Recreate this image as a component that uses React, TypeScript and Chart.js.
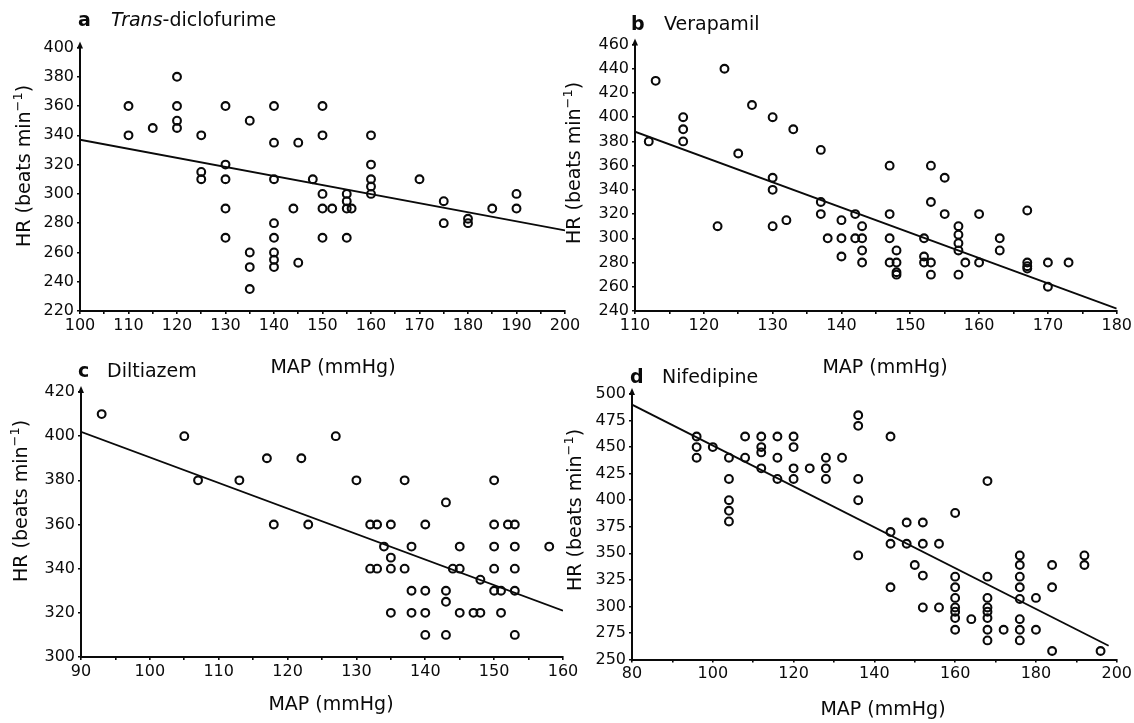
import React, { useEffect, useRef } from 'react';
import { Chart, registerables } from 'chart.js';

Chart.register(...registerables);

// ---------------- DATA ----------------
// Panel a: Trans-diclofurime
const aMAP = [110, 110, 115, 120, 120, 120, 120, 125, 125, 125, 130, 130, 130, 130, 130, 135, 135, 135, 135,
  140, 140, 140, 140, 140, 140, 140, 140, 144, 145, 145, 148, 150, 150, 150, 150, 150, 152, 155, 155, 155, 155,
  156, 160, 160, 160, 160, 160, 170, 175, 175, 180, 180, 185, 190, 190];
const aHR = [360, 340, 345, 380, 360, 350, 345, 340, 315, 310, 360, 320, 310, 290, 270, 350, 260, 250, 235,
  360, 335, 310, 280, 270, 260, 255, 250, 290, 335, 253, 310, 360, 340, 300, 290, 270, 290, 300, 295, 290, 270,
  290, 340, 320, 310, 305, 300, 310, 295, 280, 283, 280, 290, 300, 290];
const aFitMAP = [100, 200];
const aFitHR = [337, 275];
const aXTickLabels = [100, 110, 120, 130, 140, 150, 160, 170, 180, 190, 200];
const aYTickLabels = [220, 240, 260, 280, 300, 320, 340, 360, 380, 400];

// Panel b: Verapamil
const bMAP = [112, 113, 117, 117, 117, 122, 123, 125, 127, 130, 130, 130, 130, 132, 133, 137, 137, 137, 138,
  140, 140, 140, 142, 142, 143, 143, 143, 143, 147, 147, 147, 147, 148, 148, 148, 148, 152, 152, 152,
  153, 153, 153, 153, 155, 155, 157, 157, 157, 157, 157, 158, 160, 160, 163, 163, 167, 167, 167, 167, 170, 170, 173];
const bHR = [380, 430, 400, 390, 380, 310, 440, 370, 410, 400, 350, 340, 310, 315, 390, 373, 330, 320, 300,
  315, 300, 285, 320, 300, 310, 300, 290, 280, 360, 320, 300, 280, 290, 280, 272, 270, 300, 285, 280,
  360, 330, 280, 270, 350, 320, 310, 303, 296, 290, 270, 280, 320, 280, 300, 290, 323, 280, 277, 275, 280, 260, 280];
const bFitMAP = [110, 180];
const bFitHR = [388, 242];
const bXTickLabels = [110, 120, 130, 140, 150, 160, 170, 180];
const bYTickLabels = [240, 260, 280, 300, 320, 340, 360, 380, 400, 420, 440, 460];

// Panel c: Diltiazem
const cMAP = [93, 105, 107, 113, 117, 118, 122, 123, 127, 130, 132, 132, 133, 133, 134, 135, 135, 135, 135,
  137, 137, 138, 138, 138, 140, 140, 140, 140, 143, 143, 143, 143, 144, 145, 145, 145, 147, 148, 148,
  150, 150, 150, 150, 150, 151, 151, 152, 153, 153, 153, 153, 153, 158];
const cHR = [410, 400, 380, 380, 390, 360, 390, 360, 400, 380, 360, 340, 360, 340, 350, 360, 345, 340, 320,
  380, 340, 350, 330, 320, 360, 330, 320, 310, 370, 330, 325, 310, 340, 350, 340, 320, 320, 335, 320,
  380, 360, 350, 340, 330, 330, 320, 360, 360, 350, 340, 330, 310, 350];
const cFitMAP = [90, 160];
const cFitHR = [402, 321];
const cXTickLabels = [90, 100, 110, 120, 130, 140, 150, 160];
const cYTickLabels = [300, 320, 340, 360, 380, 400, 420];

// Panel d: Nifedipine
const dMAP = [96, 96, 96, 100, 104, 104, 104, 104, 104, 108, 108, 112, 112, 112, 112, 116, 116, 116,
  120, 120, 120, 120, 124, 128, 128, 128, 132, 136, 136, 136, 136, 136, 144, 144, 144, 144, 148, 148, 150,
  152, 152, 152, 152, 156, 156, 160, 160, 160, 160, 160, 160, 160, 160, 164,
  168, 168, 168, 168, 168, 168, 168, 168, 172, 176, 176, 176, 176, 176, 176, 176, 176, 180, 180,
  184, 184, 184, 192, 192, 196];
const dHR = [460, 450, 440, 450, 440, 420, 400, 390, 380, 460, 440, 460, 450, 445, 430, 460, 440, 420,
  460, 450, 430, 420, 430, 440, 430, 420, 440, 480, 470, 420, 400, 348, 460, 370, 359, 318, 379, 359, 339,
  379, 359, 329, 299, 359, 299, 388, 328, 318, 308, 299, 295, 289, 278, 288,
  418, 328, 308, 299, 295, 289, 278, 268, 278, 348, 339, 328, 318, 307, 288, 278, 268, 308, 278,
  339, 318, 258, 348, 339, 258];
const dFitMAP = [80, 198];
const dFitHR = [490, 263];
const dXTickLabels = [80, 100, 120, 140, 160, 180, 200];
const dYTickLabels = [250, 275, 300, 325, 350, 375, 400, 425, 450, 475, 500];

// ---------------- LAYOUT / STYLE ----------------
const W = 1134;
const H = 723;
const FONT = "'DejaVu Sans', 'Liberation Sans', sans-serif";
const INK = '#0a0a0a';
const Y_W = 60;
const X_H = 30;

type PanelCfg = {
  letter: string;
  italic: string;
  name: string;
  map: number[];
  hr: number[];
  fitMap: number[];
  fitHr: number[];
  xLabels: number[];
  yLabels: number[];
  xMin: number; xMax: number; xStep: number;
  yMin: number; yMax: number; yStep: number;
  area: { left: number; right: number; top: number; bottom: number };
  title: { x: number; y: number; textX: number };
  xTitle: { x: number; y: number };
  yTitle: { x: number; y: number };
};

const panels: PanelCfg[] = [
  {
    letter: 'a', italic: 'Trans', name: '-diclofurime',
    map: aMAP, hr: aHR, fitMap: aFitMAP, fitHr: aFitHR, xLabels: aXTickLabels, yLabels: aYTickLabels,
    xMin: 100, xMax: 200, xStep: 5, yMin: 220, yMax: 400, yStep: 20,
    area: { left: 80, right: 565, top: 47.5, bottom: 311 },
    title: { x: 78, y: 21, textX: 111 },
    xTitle: { x: 333, y: 368 },
    yTitle: { x: 25, y: 166 },
  },
  {
    letter: 'b', italic: '', name: 'Verapamil',
    map: bMAP, hr: bHR, fitMap: bFitMAP, fitHr: bFitHR, xLabels: bXTickLabels, yLabels: bYTickLabels,
    xMin: 110, xMax: 180, xStep: 5, yMin: 240, yMax: 460, yStep: 20,
    area: { left: 635, right: 1118, top: 44.5, bottom: 311 },
    title: { x: 631, y: 25, textX: 664 },
    xTitle: { x: 885, y: 368 },
    yTitle: { x: 575, y: 163 },
  },
  {
    letter: 'c', italic: '', name: 'Diltiazem',
    map: cMAP, hr: cHR, fitMap: cFitMAP, fitHr: cFitHR, xLabels: cXTickLabels, yLabels: cYTickLabels,
    xMin: 90, xMax: 160, xStep: 5, yMin: 300, yMax: 420, yStep: 20,
    area: { left: 81, right: 563, top: 392, bottom: 657 },
    title: { x: 78, y: 372, textX: 107 },
    xTitle: { x: 331, y: 705 },
    yTitle: { x: 22, y: 501 },
  },
  {
    letter: 'd', italic: '', name: 'Nifedipine',
    map: dMAP, hr: dHR, fitMap: dFitMAP, fitHr: dFitHR, xLabels: dXTickLabels, yLabels: dYTickLabels,
    xMin: 80, xMax: 200, xStep: 10, yMin: 250, yMax: 500, yStep: 25,
    area: { left: 632, right: 1117, top: 394, bottom: 659.5 },
    title: { x: 630, y: 378, textX: 662 },
    xTitle: { x: 883, y: 710 },
    yTitle: { x: 576, y: 510 },
  },
];

function makeTextPlugin(p: PanelCfg) {
  return {
    id: 'panelText',
    afterDraw(chart: any) {
      const ctx: CanvasRenderingContext2D = chart.ctx;
      const area = chart.chartArea;
      ctx.save();
      ctx.fillStyle = INK;
      ctx.strokeStyle = INK;
      // small arrow at top of the y axis
      ctx.beginPath();
      ctx.moveTo(area.left, area.top - 6);
      ctx.lineTo(area.left - 3, area.top + 1);
      ctx.lineTo(area.left + 3, area.top + 1);
      ctx.closePath();
      ctx.fill();

      ctx.textBaseline = 'middle';
      ctx.textAlign = 'left';
      // panel title
      ctx.font = `bold 19px ${FONT}`;
      ctx.fillText(p.letter, p.title.x, p.title.y);
      let tx = p.title.textX;
      if (p.italic) {
        ctx.font = `italic 19px ${FONT}`;
        ctx.fillText(p.italic, tx, p.title.y);
        tx += ctx.measureText(p.italic).width;
      }
      ctx.font = `19px ${FONT}`;
      ctx.fillText(p.name, tx, p.title.y);

      // x-axis title
      ctx.textAlign = 'center';
      ctx.font = `19px ${FONT}`;
      ctx.fillText('MAP (mmHg)', p.xTitle.x, p.xTitle.y);

      // y-axis title (rotated, with superscript)
      ctx.translate(p.yTitle.x, p.yTitle.y);
      ctx.rotate(-Math.PI / 2);
      ctx.textAlign = 'left';
      const main = 'HR (beats min';
      const sup = '\u22121';
      const close = ')';
      ctx.font = `19px ${FONT}`;
      const wMain = ctx.measureText(main).width;
      const wClose = ctx.measureText(close).width;
      ctx.font = `13px ${FONT}`;
      const wSup = ctx.measureText(sup).width;
      let x0 = -(wMain + wSup + wClose) / 2;
      ctx.font = `19px ${FONT}`;
      ctx.fillText(main, x0, 0);
      x0 += wMain;
      ctx.font = `13px ${FONT}`;
      ctx.fillText(sup, x0, -6);
      x0 += wSup;
      ctx.font = `19px ${FONT}`;
      ctx.fillText(close, x0, 0);
      ctx.restore();
    },
  };
}

function Panel({ cfg }: { cfg: PanelCfg }) {
  const ref = useRef<HTMLCanvasElement | null>(null);
  useEffect(() => {
    if (!ref.current) return;
    const points = cfg.map.map((m, i) => ({ x: m, y: cfg.hr[i] }));
    const fit = cfg.fitMap.map((m, i) => ({ x: m, y: cfg.fitHr[i] }));
    const axisCommon = {
      type: 'linear' as const,
      border: { display: true, color: INK, width: 2 },
      grid: {
        display: true,
        drawOnChartArea: false,
        drawTicks: true,
        tickLength: 3,
        color: INK,
        tickColor: INK,
        lineWidth: 1.6,
      },
    };
    const chart = new Chart(ref.current, {
      type: 'scatter',
      data: {
        datasets: [
          {
            type: 'scatter',
            data: fit,
            showLine: true,
            borderColor: INK,
            borderWidth: 1.8,
            pointRadius: 0,
            fill: false,
            order: 2,
          } as any,
          {
            type: 'scatter',
            data: points,
            pointStyle: 'circle',
            pointRadius: 3.9,
            borderWidth: 2.1,
            borderColor: INK,
            backgroundColor: 'rgba(0,0,0,0)',
            order: 1,
          } as any,
        ],
      },
      options: {
        responsive: false,
        animation: false,
        devicePixelRatio: 1,
        events: [],
        layout: {
          padding: {
            left: cfg.area.left - Y_W,
            right: W - cfg.area.right,
            top: cfg.area.top,
            bottom: H - cfg.area.bottom - X_H,
          },
        },
        plugins: {
          legend: { display: false },
          tooltip: { enabled: false },
          title: { display: false },
        },
        scales: {
          x: {
            ...axisCommon,
            position: 'bottom',
            min: cfg.xMin,
            max: cfg.xMax,
            afterFit: (s: any) => { s.height = X_H; },
            ticks: {
              stepSize: cfg.xStep,
              autoSkip: false,
              maxRotation: 0,
              minRotation: 0,
              padding: 2,
              color: INK,
              font: { family: FONT, size: 16 },
              callback: (v: any) => (cfg.xLabels.includes(Number(v)) ? String(v) : ''),
            },
          },
          y: {
            ...axisCommon,
            position: 'left',
            min: cfg.yMin,
            max: cfg.yMax,
            afterFit: (s: any) => { s.width = Y_W; },
            ticks: {
              stepSize: cfg.yStep,
              autoSkip: false,
              padding: 3,
              color: INK,
              font: { family: FONT, size: 16 },
              callback: (v: any) => (cfg.yLabels.includes(Number(v)) ? String(v) : ''),
            },
          },
        },
      } as any,
      plugins: [makeTextPlugin(cfg)],
    });
    return () => chart.destroy();
  }, [cfg]);
  return (
    <canvas
      ref={ref}
      width={W}
      height={H}
      style={{ position: 'absolute', left: 0, top: 0, width: W, height: H }}
    />
  );
}

export default function App() {
  return (
    <div
      style={{
        position: 'fixed',
        left: 0,
        top: 0,
        width: W,
        height: H,
        background: '#fff',
        overflow: 'hidden',
      }}
    >
      {panels.map((p) => (
        <Panel key={p.letter} cfg={p} />
      ))}
    </div>
  );
}
